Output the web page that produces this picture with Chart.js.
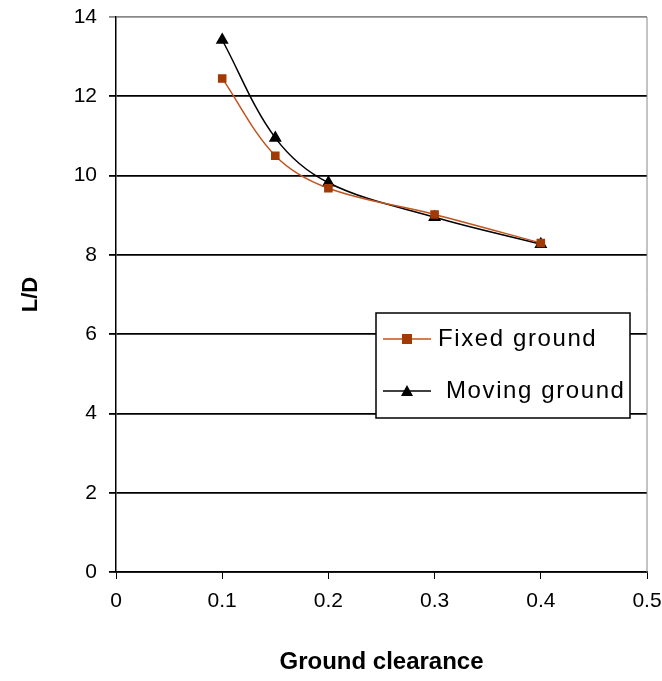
<!DOCTYPE html>
<html>
<head>
<meta charset="utf-8">
<script src="https://cdn.jsdelivr.net/npm/chart.js@4.4.0/dist/chart.umd.min.js"></script>
<style>
  body { margin: 0; background: #fff; }
  #wrap { width: 662px; height: 681px; }
</style>
</head>
<body>
<div id="wrap"><canvas id="ldChart" width="662" height="681"></canvas></div>
<script>
// Ground clearance vs L/D

const clearance = [0.1, 0.15, 0.2, 0.3, 0.4];
const fixedGround = [12.45, 10.5, 9.68, 9.02, 8.3];
const movingGround = [13.42, 10.95, 9.82, 8.95, 8.27];
const seriesNames = ["Fixed ground", "Moving ground"];

const font = "'Liberation Sans', Arial, sans-serif";

function toPoints(ys) {
  return clearance.map((x, i) => ({ x: x, y: ys[i] }));
}

// legend box drawn inside the plot, like the original
const boxLegend = {
  id: 'boxLegend',
  afterDraw(chart) {
    const ctx = chart.ctx;
    const x0 = 376, y0 = 313, w = 254, h = 105;
    ctx.save();
    ctx.fillStyle = '#fff';
    ctx.fillRect(x0, y0, w, h);
    ctx.strokeStyle = '#000';
    ctx.lineWidth = 1.5;
    ctx.strokeRect(x0, y0, w, h);
    chart.data.datasets.forEach((ds, i) => {
      const cy = y0 + 26 + i * 52;
      ctx.strokeStyle = ds.borderColor;
      ctx.lineWidth = 1.5;
      ctx.beginPath();
      ctx.moveTo(383, cy);
      ctx.lineTo(431, cy);
      ctx.stroke();
      ctx.fillStyle = ds.pointBackgroundColor;
      if (ds.pointStyle === 'rect') {
        ctx.fillRect(402, cy - 5, 10, 10);
      } else {
        ctx.beginPath();
        ctx.moveTo(407, cy - 6);
        ctx.lineTo(413, cy + 5);
        ctx.lineTo(401, cy + 5);
        ctx.closePath();
        ctx.fill();
      }
      ctx.fillStyle = '#000';
      ctx.font = '24px ' + font;
      ctx.letterSpacing = '1.6px';
      ctx.textBaseline = 'middle';
      ctx.fillText(ds.label, i === 0 ? 438 : 446, cy);
    });
    // grey right border
    const a = chart.chartArea;
    ctx.strokeStyle = '#888';
    ctx.lineWidth = 1;
    ctx.beginPath();
    ctx.moveTo(a.right, a.top);
    ctx.lineTo(a.right, a.bottom);
    ctx.stroke();
    ctx.restore();
  }
};

let ldChart = new Chart(document.getElementById("ldChart"), {
  type: 'line',
  data: {
    datasets: [{
      label: seriesNames[0],
      data: toPoints(fixedGround),
      borderColor: '#C0531E',
      borderWidth: 1.5,
      pointStyle: 'rect',
      pointRadius: 5,
      pointBackgroundColor: '#A23A06',
      pointBorderColor: '#A23A06',
      tension: 0.35
    }, {
      label: seriesNames[1],
      data: toPoints(movingGround),
      borderColor: '#000',
      borderWidth: 1.5,
      pointStyle: 'triangle',
      pointRadius: 6,
      pointBackgroundColor: '#000',
      pointBorderColor: '#000',
      tension: 0.35
    }]
  },
  options: {
    responsive: false,
    animation: false,
    layout: { padding: { left: 0, right: 15, top: 17, bottom: 0 } },
    plugins: {
      legend: { display: false },
      tooltip: { enabled: false }
    },
    scales: {
      x: {
        type: 'linear',
        min: 0,
        max: 0.5,
        afterFit(s) { s.height = 109; s.paddingLeft = 0; s.paddingRight = 0; },
        border: { color: '#000', width: 1.5 },
        grid: { drawOnChartArea: false, tickLength: 7, color: '#000' },
        ticks: {
          stepSize: 0.1,
          color: '#000',
          padding: 10,
          font: { family: font, size: 21 },
          callback: v => Math.round(v * 10) / 10
        },
        title: {
          display: true,
          text: 'Ground clearance',
          color: '#000',
          font: { family: font, size: 24, weight: 'bold' },
          padding: { top: 18 }
        }
      },
      y: {
        min: 0,
        max: 14,
        afterFit(s) { s.width = 116; s.paddingTop = 0; s.paddingBottom = 0; },
        border: { color: '#000', width: 1.5 },
        grid: {
          tickLength: 7,
          lineWidth: 1.8,
          color: c => c.tick && c.tick.value === 14 ? '#888' : '#000'
        },
        ticks: {
          stepSize: 2,
          color: '#000',
          padding: 12,
          font: { family: font, size: 21 }
        },
        title: {
          display: true,
          text: 'L/D',
          color: '#000',
          font: { family: font, size: 22, weight: 'bold' },
          padding: { top: 18, bottom: 0 }
        }
      }
    }
  },
  plugins: [boxLegend]
});
</script>
</body>
</html>
